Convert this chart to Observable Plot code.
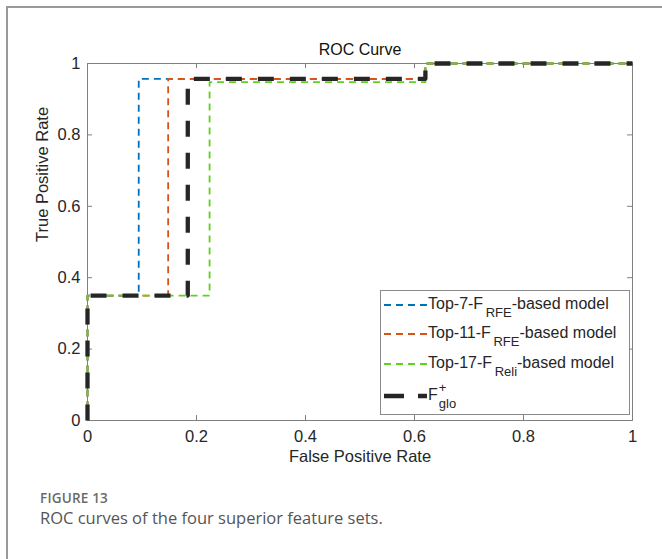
<!DOCTYPE html>
<html><head><meta charset="utf-8">
<script src="https://cdn.jsdelivr.net/npm/d3@7"></script>
<script src="https://cdn.jsdelivr.net/npm/@observablehq/plot@0.6"></script>
<style>
body{margin:0;background:#fff;}
#card{position:absolute;left:0;top:0;width:662px;height:559px;overflow:hidden;background:#fff;}
#border{position:absolute;left:6px;top:6px;width:800px;height:800px;border-left:2px solid #9a9a9a;border-top:2px solid #9a9a9a;}
#chart{position:absolute;left:0;top:0;}
#chart svg text{font-family:"Liberation Sans",Arial,Helvetica,sans-serif;}
#legend{position:absolute;left:380px;top:290px;width:250px;height:125px;border:1px solid #8a8a8a;background:#fff;box-sizing:border-box;font-family:"Liberation Sans",Arial,sans-serif;font-size:16px;color:#262626;}
.entry{position:absolute;left:0;width:248px;height:28px;}
.entry svg{position:absolute;left:2px;top:0;}
.entry .lab{position:absolute;left:47px;top:4px;white-space:nowrap;line-height:17px;}
.sub{font-size:13px;position:relative;top:8px;}
.stack{display:inline-block;position:relative;width:24px;height:17px;vertical-align:top;}
.stack .sp{position:absolute;left:1px;top:-7px;font-size:13px;}
.stack .sb{position:absolute;left:1px;top:9px;font-size:13px;}
#fig{position:absolute;left:40px;top:492px;line-height:1;font-family:"Open Sans",sans-serif;font-weight:600;font-size:13.5px;color:#6a6a6a;letter-spacing:0.2px;}
#cap{position:absolute;left:40px;top:510px;line-height:1;font-family:"Open Sans",sans-serif;font-weight:400;font-size:16.5px;color:#555;}
</style></head>
<body>
<div id="card">
<div id="border"></div>
<div id="chart"></div>
<div id="legend"></div>
<div id="fig">FIGURE 13</div>
<div id="cap">ROC curves of the four superior feature sets.</div>
</div>
<script>
// ---- data ----
const xTicks = [0, 0.2, 0.4, 0.6, 0.8, 1];
const yTicks = [0, 0.2, 0.4, 0.6, 0.8, 1];

const top7FPR  = [0, 0, 0.094, 0.094, 0.62, 0.62, 1];
const top7TPR  = [0, 0.35, 0.35, 0.957, 0.957, 1, 1];
const top11FPR = [0, 0, 0.148, 0.148, 0.62, 0.62, 1];
const top11TPR = [0, 0.35, 0.35, 0.957, 0.957, 1, 1];
const top17FPR = [0, 0, 0.224, 0.224, 0.62, 0.62, 1];
const top17TPR = [0, 0.35, 0.35, 0.948, 0.948, 1, 1];
const gloFPR   = [0, 0, 0.184, 0.184, 0.62, 0.62, 1];
const gloTPR   = [0, 0.35, 0.35, 0.957, 0.957, 1, 1];

const seriesColors = ["#0072BD", "#D95319", "#5fd11f", "#262626"];

const toPts = (xs, ys) => xs.map((x, i) => ({x, y: ys[i]}));
const curves = [
  toPts(top7FPR, top7TPR),
  toPts(top11FPR, top11TPR),
  toPts(top17FPR, top17TPR),
  toPts(gloFPR, gloTPR)
];
const styles = [
  {stroke: seriesColors[0], strokeWidth: 1.8, strokeDasharray: "7,5"},
  {stroke: seriesColors[1], strokeWidth: 1.8, strokeDasharray: "7,5"},
  {stroke: seriesColors[2], strokeWidth: 1.8, strokeDasharray: "7,5"},
  {stroke: seriesColors[3], strokeWidth: 4.3, strokeDasharray: "16,16"}
];

const W = 662, H = 480;
const mL = 87, mR = 30, mT = 63, mB = 60;
const plotH = H - mT - mB;
const plotW = W - mL - mR;
const axisColor = "#808080";
const font = "'Liberation Sans', Arial, sans-serif";

const plot = Plot.plot({
  width: W, height: H,
  marginLeft: mL, marginRight: mR, marginTop: mT, marginBottom: mB,
  style: {fontFamily: font, background: "transparent", color: "#262626"},
  x: {domain: [0, 1]},
  y: {domain: [0, 1]},
  marks: [
    Plot.frame({stroke: axisColor, strokeWidth: 1}),
    Plot.tickX(xTicks, {x: d => d, insetTop: plotH - 5, stroke: axisColor}),
    Plot.tickX(xTicks, {x: d => d, insetBottom: plotH - 5, stroke: axisColor}),
    Plot.tickY(yTicks, {y: d => d, insetRight: plotW - 5, stroke: axisColor}),
    Plot.tickY(yTicks, {y: d => d, insetLeft: plotW - 5, stroke: axisColor}),
    Plot.axisX({ticks: xTicks, tickSize: 0, tickPadding: 10, tickFormat: d => String(d), fontSize: 16.5, label: null, fill: "#262626"}),
    Plot.axisY({ticks: yTicks, tickSize: 0, tickPadding: 7, tickFormat: d => String(d), fontSize: 16.5, label: null, fill: "#262626"}),
    ...curves.map((c, i) => Plot.line(c, {x: "x", y: "y", ...styles[i], strokeLinecap: "butt"})),
    Plot.text(["ROC Curve"], {frameAnchor: "top", dy: -20, fontSize: 16, fill: "#111"}),
    Plot.text(["False Positive Rate"], {frameAnchor: "bottom", dy: 41, fontSize: 16.5, fill: "#262626"}),
    Plot.text(["True Positive Rate"], {frameAnchor: "left", dx: -45, rotate: -90, fontSize: 16.5, fill: "#262626"})
  ]
});
document.getElementById("chart").appendChild(plot);

// ---- legend ----
const legendLabels = [
  'Top-7-F<span class="sub">&#8201;RFE</span>-based model',
  'Top-11-F<span class="sub">&#8201;RFE</span>-based model',
  'Top-17-F<span class="sub">&#8201;Reli</span>-based model',
  'F<span class="stack"><span class="sp">+</span><span class="sb">glo</span></span>'
];
const legendTops = [0, 29, 59, 91];
const leg = document.getElementById("legend");
legendLabels.forEach((lab, i) => {
  const e = document.createElement("div");
  e.className = "entry";
  e.style.top = legendTops[i] + "px";
  const st = styles[i];
  const dash = i === 3 ? "20,14" : "7,5";
  e.innerHTML = `<svg width="44" height="28"><line x1="1" x2="44" y1="14" y2="14" stroke="${st.stroke}" stroke-width="${st.strokeWidth}" stroke-dasharray="${dash}"/></svg><span class="lab">${lab}</span>`;
  leg.appendChild(e);
});
</script>
</body></html>
